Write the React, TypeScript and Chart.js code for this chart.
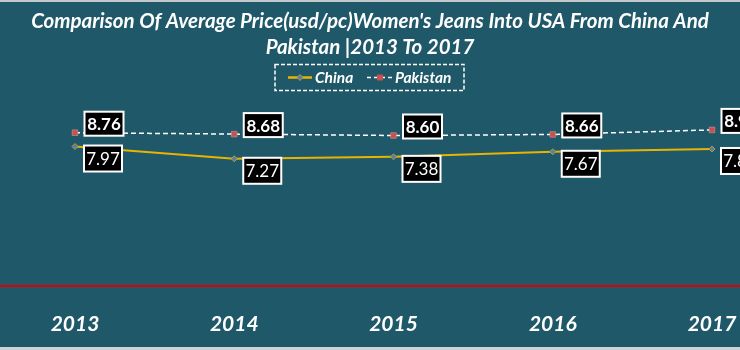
import React, { useEffect, useRef } from 'react';
import { Chart, registerables } from 'chart.js';

Chart.register(...registerables);

const years = ['2013', '2014', '2015', '2016', '2017'];
const chinaPrices = [7.97, 7.27, 7.38, 7.67, 7.83];
const pakistanPrices = [8.76, 8.68, 8.6, 8.66, 8.92];
const seriesNames = ['China', 'Pakistan'];
const titleLines = [
  "Comparison Of Average Price(usd/pc)Women's Jeans Into USA From China And",
  'Pakistan |2013 To 2017',
];

const BG = '#1F5868';
const FONT = 'Lato, "DejaVu Sans", sans-serif';
const CHINA_LINE = '#E8B400';
const CHINA_POINT = '#5B7CA8';
const PAK_POINT = '#C9504D';

// label box offsets relative to each point (style only)
const labelStyle = [
  { dx: 28, dy: 12, w: 38, h: 26, weight: 'normal' },
  { dx: 29, dy: -9, w: 39, h: 24, weight: 'bold' },
];

export default function App() {
  const ref = useRef<HTMLCanvasElement>(null);

  useEffect(() => {
    document.body.style.margin = '0';
    const canvas = ref.current!;

    const decor = {
      id: 'decor',
      beforeDraw(chart: any) {
        const { ctx, width, height } = chart;
        ctx.save();
        ctx.fillStyle = BG;
        ctx.fillRect(0, 0, width, height);
        ctx.fillStyle = '#C4CACC';
        ctx.fillRect(0, 0, width, 2);
        ctx.fillStyle = '#CBD5D8';
        ctx.fillRect(0, height - 3, width, 3);

        // title
        ctx.fillStyle = '#FFFFFF';
        ctx.textAlign = 'center';
        ctx.textBaseline = 'alphabetic';
        ctx.font = `italic bold 20px ${FONT}`;
        const w = ctx.measureText(titleLines[0]).width;
        const size = (20 * 678) / w;
        ctx.font = `italic bold ${size}px ${FONT}`;
        ctx.fillText(titleLines[0], 370, 28);
        ctx.fillText(titleLines[1], 370, 54);

        // legend box
        ctx.strokeStyle = '#FFFFFF';
        ctx.lineWidth = 1.5;
        ctx.setLineDash([4, 2]);
        ctx.strokeRect(275, 64.5, 189, 26);
        const ly = 77.5;
        // china symbol
        ctx.setLineDash([]);
        ctx.strokeStyle = CHINA_LINE;
        ctx.lineWidth = 2.5;
        ctx.beginPath();
        ctx.moveTo(288, ly);
        ctx.lineTo(312, ly);
        ctx.stroke();
        ctx.fillStyle = CHINA_POINT;
        ctx.strokeStyle = '#B0A040';
        ctx.lineWidth = 1;
        ctx.beginPath();
        ctx.moveTo(300, ly - 3);
        ctx.lineTo(303, ly);
        ctx.lineTo(300, ly + 3);
        ctx.lineTo(297, ly);
        ctx.closePath();
        ctx.fill();
        ctx.stroke();
        // pakistan symbol
        ctx.strokeStyle = '#FFFFFF';
        ctx.lineWidth = 1.5;
        ctx.setLineDash([4, 3]);
        ctx.beginPath();
        ctx.moveTo(367, ly);
        ctx.lineTo(392, ly);
        ctx.stroke();
        ctx.setLineDash([]);
        ctx.fillStyle = PAK_POINT;
        ctx.fillRect(377, ly - 3, 6, 6);
        // legend texts
        ctx.fillStyle = '#FFFFFF';
        ctx.textAlign = 'left';
        ctx.font = `italic bold 15.5px ${FONT}`;
        ctx.fillText(seriesNames[0], 315, 83);
        ctx.fillText(seriesNames[1], 395, 83);

        // zero line
        const y0 = chart.scales.y.getPixelForValue(0);
        ctx.strokeStyle = '#E00000';
        ctx.lineWidth = 2;
        ctx.beginPath();
        ctx.moveTo(0, y0);
        ctx.lineTo(width, y0);
        ctx.stroke();
        ctx.restore();
      },
      afterDatasetsDraw(chart: any) {
        const { ctx } = chart;
        ctx.save();
        chart.data.datasets.forEach((ds: any, i: number) => {
          const meta = chart.getDatasetMeta(i);
          const st = labelStyle[i];
          meta.data.forEach((pt: any, j: number) => {
            const cx = pt.x + st.dx;
            const cy = pt.y + st.dy;
            ctx.fillStyle = '#000000';
            ctx.fillRect(cx - st.w / 2, cy - st.h / 2, st.w, st.h);
            ctx.strokeStyle = '#FFFFFF';
            ctx.lineWidth = 2;
            ctx.strokeRect(cx - st.w / 2, cy - st.h / 2, st.w, st.h);
            ctx.fillStyle = '#FFFFFF';
            ctx.textAlign = 'center';
            ctx.textBaseline = 'middle';
            ctx.font = `${st.weight} 17px ${FONT}`;
            ctx.fillText((ds.data[j] as number).toFixed(2), cx, cy + 1);
          });
        });
        ctx.restore();
      },
    };

    const chart = new Chart(canvas, {
      type: 'line',
      data: {
        labels: years,
        datasets: [
          {
            label: seriesNames[0],
            data: chinaPrices,
            borderColor: CHINA_LINE,
            borderWidth: 2,
            pointStyle: 'rectRot',
            pointRadius: 3,
            pointBackgroundColor: CHINA_POINT,
            pointBorderColor: '#B0A040',
            pointBorderWidth: 1,
            clip: false as any,
          },
          {
            label: seriesNames[1],
            data: pakistanPrices,
            borderColor: '#FFFFFF',
            borderWidth: 1.5,
            borderDash: [5, 3],
            pointStyle: 'rect',
            pointRadius: 4,
            pointBackgroundColor: PAK_POINT,
            pointBorderColor: '#D8A0A0',
            pointBorderWidth: 0.5,
            clip: false as any,
          },
        ],
      },
      options: {
        responsive: false,
        animation: false,
        layout: { padding: { left: 75, right: 28, top: 111, bottom: 0 } },
        plugins: {
          legend: { display: false },
          title: { display: false },
          tooltip: { enabled: false },
        },
        scales: {
          x: {
            type: 'category',
            offset: false,
            grid: { display: false, drawTicks: false },
            border: { display: false },
            ticks: {
              color: '#FFFFFF',
              font: { family: FONT, size: 21, weight: 'bold', style: 'italic' },
              padding: 26,
              maxRotation: 0,
              autoSkip: false,
            },
            afterFit: (s: any) => {
              s.height = 64;
              s.paddingLeft = 0;
              s.paddingRight = 0;
            },
          },
          y: { display: false, min: 0, max: 10 },
        },
      },
      plugins: [decor],
    });
    return () => chart.destroy();
  }, []);

  return (
    <div style={{ width: 740, height: 350 }}>
      <canvas ref={ref} width={740} height={350} style={{ display: 'block' }} />
    </div>
  );
}
